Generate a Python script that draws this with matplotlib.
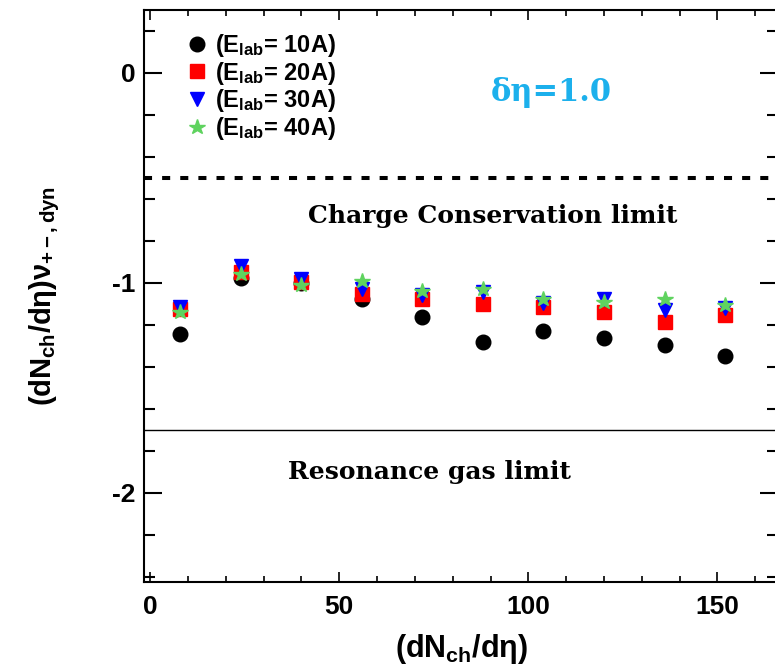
import matplotlib
matplotlib.use("Agg")
import matplotlib.pyplot as plt
from matplotlib.ticker import MultipleLocator

plt.rcParams["font.family"] = ["Liberation Sans", "DejaVu Sans"]
plt.rcParams["mathtext.fontset"] = "custom"
plt.rcParams["mathtext.rm"] = "Liberation Sans:bold"
plt.rcParams["mathtext.it"] = "Liberation Sans:bold"
plt.rcParams["mathtext.bf"] = "Liberation Sans:bold"
plt.rcParams["axes.unicode_minus"] = False

# Data

dndeta = [8, 24, 40, 56, 72, 88, 104, 120, 136, 152]

e10 = [-1.243, -0.975, -1.000, -1.074, -1.163, -1.282, -1.231, -1.262, -1.293, -1.348]
e20 = [-1.125, -0.950, -0.997, -1.052, -1.075, -1.102, -1.115, -1.138, -1.185, -1.154]
e30 = [-1.113, -0.917, -0.980, -1.027, -1.058, -1.042, -1.097, -1.074, -1.129, -1.120]
e40 = [-1.136, -0.956, -1.011, -0.991, -1.038, -1.031, -1.078, -1.089, -1.078, -1.105]

labels = ["(E$_{lab}$= 10A)", "(E$_{lab}$= 20A)", "(E$_{lab}$= 30A)", "(E$_{lab}$= 40A)"]

charge_limit = -0.5
resonance_limit = -1.7

fig = plt.figure(figsize=(7.75, 6.67), dpi=100)
ax = fig.add_axes([144 / 775, 1 - 582 / 667, 634 / 775, 572 / 667])

ax.plot(dndeta, e10, "o", color="black", ms=10.5, label=labels[0])
ax.plot(dndeta, e20, "s", color="#ff0000", ms=10.5, label=labels[1])
ax.plot(dndeta, e30, "v", color="#0000ff", ms=10.5, label=labels[2])
ax.plot(dndeta, e40, "*", color="#5fd35f", ms=11.5, label=labels[3])

ax.axhline(charge_limit, color="black", lw=2.9, dashes=(2, 2.5))
ax.axhline(resonance_limit, color="black", lw=1)

ax.text(106, -0.095, "δη=1.0", color="#1cb0ec", fontsize=22,
        fontweight="bold", family="DejaVu Serif", ha="center", va="center")
ax.text(90.7, -0.68, "Charge Conservation limit", fontsize=18,
        fontweight="bold", family="DejaVu Serif", ha="center", va="center")
ax.text(73.8, -1.9, "Resonance gas limit", fontsize=18,
        fontweight="bold", family="DejaVu Serif", ha="center", va="center")

ax.set_xlim(-1.6, 166)
ax.set_ylim(-2.424, 0.3)

ax.xaxis.set_major_locator(MultipleLocator(50))
ax.xaxis.set_minor_locator(MultipleLocator(10))
ax.yaxis.set_major_locator(MultipleLocator(1))
ax.yaxis.set_minor_locator(MultipleLocator(0.2))

ax.tick_params(axis="both", which="both", direction="in", top=True, right=True)
ax.tick_params(axis="x", which="major", length=7, width=1.2)
ax.tick_params(axis="x", which="minor", length=4.5, width=1.2)
ax.tick_params(axis="y", which="major", length=13, width=1.5)
ax.tick_params(axis="y", which="minor", length=8, width=1.5)
ax.tick_params(axis="both", labelsize=19)
ax.tick_params(axis="x", pad=9)
ax.tick_params(axis="y", pad=6)
for lab in ax.get_xticklabels() + ax.get_yticklabels():
    lab.set_fontweight("bold")

for s in ax.spines.values():
    s.set_linewidth(1.5)

ax.set_xlabel(r"$(dN_{ch}/d\eta)$", fontsize=22, labelpad=10)
ax.set_ylabel(r"$(dN_{ch}/d\eta)\nu_{+-,dyn}$", fontsize=21, labelpad=36)

ax.legend(loc="upper left", bbox_to_anchor=(0.05, 0.978), frameon=False,
          prop={"size": 17, "weight": "bold"}, handletextpad=0.25,
          labelspacing=0.03, handlelength=1.0, borderaxespad=0)

plt.savefig("out.png", dpi=100)
plt.close()
